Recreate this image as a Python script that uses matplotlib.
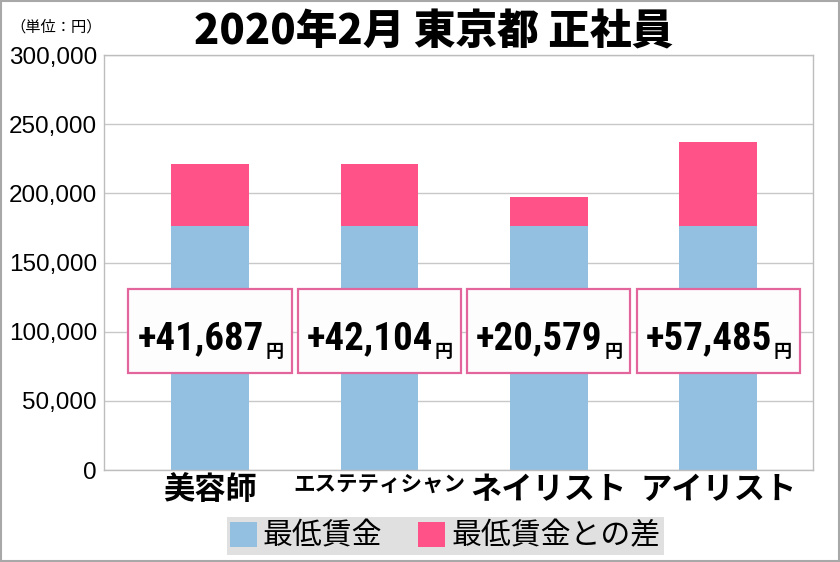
import matplotlib
matplotlib.use("Agg")
import matplotlib.pyplot as plt
from matplotlib import font_manager
from matplotlib.patches import Rectangle, Patch
from matplotlib.ticker import FuncFormatter

# ---- data ----
categories = ["美容師", "エステティシャン", "ネイリスト", "アイリスト"]
min_wage = [176300, 176300, 176300, 176300]
diff_bar = [44700, 45100, 21000, 60800]
diff_labels = ["+41,687", "+42,104", "+20,579", "+57,485"]
yticks = [0, 50000, 100000, 150000, 200000, 250000, 300000]
title = "2020年 2月 東京都 正社員"
unit_text = "（単位：円）"
legend_labels = ["最低賃金", "最低賃金との差"]

BLUE = "#93bfe0"
PINK = "#ff5289"
BOX_EDGE = "#e2659c"

available = {f.name for f in font_manager.fontManager.ttflist}
def pick(cands):
    for c in cands:
        if c in available:
            return c
    return "DejaVu Sans"

CJK = pick(["Noto Sans CJK JP", "Noto Sans CJK SC"])
NARROW = pick(["Liberation Sans Narrow", "Roboto Condensed", "DejaVu Sans Condensed", "Roboto", "Liberation Sans"])
ARIAL = pick(["Liberation Sans", "DejaVu Sans"])

plt.rcParams["font.family"] = [CJK, "DejaVu Sans"]

fig = plt.figure(figsize=(8.4, 5.62), dpi=100)
fig.patch.set_facecolor("white")
fig.add_artist(Rectangle((0.0015, 0.002), 0.997, 0.996, transform=fig.transFigure,
                         fill=False, edgecolor="#a8a8a8", linewidth=1.5))

ax = fig.add_axes([0.1238, 0.1637, 0.9679 - 0.1238, 0.9021 - 0.1637])
x = list(range(len(categories)))
bw = 0.457
ax.bar(x, min_wage, width=bw, color=BLUE, zorder=2, label=legend_labels[0])
ax.bar(x, diff_bar, width=bw, bottom=min_wage, color=PINK, zorder=2, label=legend_labels[1])

ax.set_xlim(-0.626, 3.56)
ax.set_ylim(0, 300000)
ax.set_yticks(yticks)
ax.yaxis.set_major_formatter(FuncFormatter(lambda v, p: f"{int(v):,}"))
ax.yaxis.grid(True, color="#c8c8c8", linewidth=1.0, zorder=0)
ax.set_axisbelow(True)
for s in ax.spines.values():
    s.set_color("#bdbdbd")
    s.set_linewidth(1.0)
ax.tick_params(axis="y", length=0, pad=5, labelsize=17.5)
for lab in ax.get_yticklabels():
    lab.set_fontfamily(ARIAL)
ax.tick_params(axis="x", length=0, pad=3)
ax.set_xticks(x)
ax.set_xticklabels(categories, fontweight="bold")
for lab, cat in zip(ax.get_xticklabels(), categories):
    lab.set_fontsize(15.5 if len(cat) > 6 else 22.5)

# label boxes
box_w = 0.963
box_h = 60700
box_cy = 100250
for xi, lbl in zip(x, diff_labels):
    ax.add_patch(Rectangle((xi - box_w / 2, box_cy - box_h / 2), box_w, box_h,
                           facecolor="#fdfdfd", edgecolor=BOX_EDGE, linewidth=1.6, zorder=4))
    t = ax.text(xi - 0.055, box_cy - 13000, lbl, ha="center", va="baseline",
                fontsize=28, fontweight="bold", family=NARROW, zorder=5)
    ax.annotate("円", xy=(1, 0), xycoords=t, xytext=(1, 0), textcoords="offset points",
                ha="left", va="baseline", fontsize=13, fontweight="bold", zorder=5)

fig.text(0.516, 0.943, title.replace("年 2", "年2"), ha="center", va="center",
         fontsize=30, fontweight="heavy")
fig.text(0.012, 0.952, unit_text, ha="left", va="center", fontsize=11)

handles = [Patch(facecolor=BLUE, edgecolor="none"), Patch(facecolor=PINK, edgecolor="none")]
leg = fig.legend(handles, legend_labels, loc="center", bbox_to_anchor=(0.53, 1 - 536 / 562),
                 ncol=2, fontsize=21.5, frameon=True, fancybox=False, handlelength=0.9,
                 handleheight=0.9, handletextpad=0.2, columnspacing=1.2, borderpad=0.12,
                 borderaxespad=0)
leg.get_frame().set_facecolor("#e0e0e0")
leg.get_frame().set_edgecolor("none")
leg.get_frame().set_alpha(1)

fig.savefig("out.png", dpi=100)
